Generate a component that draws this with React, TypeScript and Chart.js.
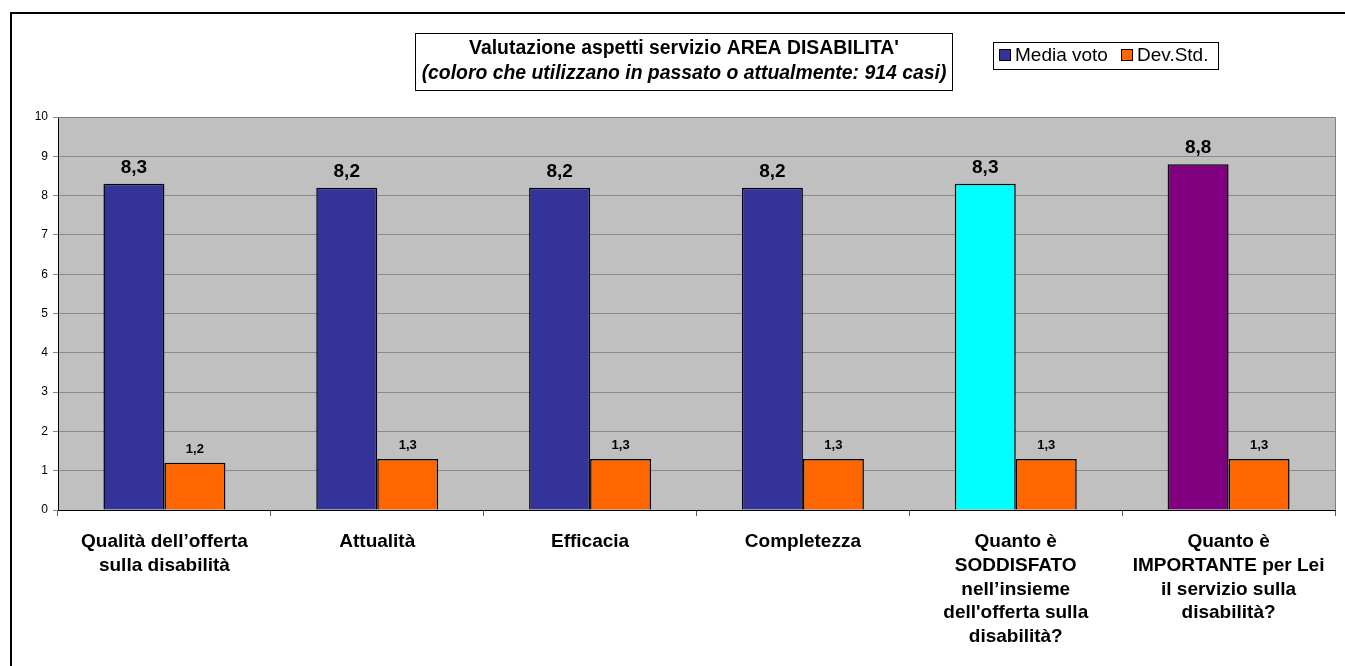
import React, { useEffect, useRef } from "react";
import { Chart, registerables } from "chart.js";

Chart.register(...registerables);

const categories: string[][] = [
  ["Qualità dell’offerta", "sulla disabilità"],
  ["Attualità"],
  ["Efficacia"],
  ["Completezza"],
  ["Quanto è", "SODDISFATO", "nell’insieme", "dell'offerta sulla", "disabilità?"],
  ["Quanto è", "IMPORTANTE per Lei", "il servizio sulla", "disabilità?"],
];
const mediaVoto: number[] = [8.3, 8.2, 8.2, 8.2, 8.3, 8.8];
const devStd: number[] = [1.2, 1.3, 1.3, 1.3, 1.3, 1.3];
const mediaColors: string[] = ["#333399", "#333399", "#333399", "#333399", "#00FFFF", "#800080"];
const seriesNames: string[] = ["Media voto", "Dev.Std."];
const titleLines: string[] = [
  "Valutazione aspetti servizio AREA DISABILITA'",
  "(coloro che utilizzano in passato o attualmente: 914 casi)",
];

const FONT = "Arial, 'Liberation Sans', sans-serif";

const decorPlugin = {
  id: "decor",
  beforeDraw(chart: any) {
    const { ctx, chartArea } = chart;
    ctx.save();
    ctx.fillStyle = "#ffffff";
    ctx.fillRect(0, 0, chart.width, chart.height);
    ctx.fillStyle = "#C0C0C0";
    ctx.fillRect(chartArea.left, chartArea.top, chartArea.right - chartArea.left, chartArea.bottom - chartArea.top);
    ctx.restore();
  },
  afterDraw(chart: any) {
    const { ctx, chartArea } = chart;
    ctx.save();
    // plot area border (top/right)
    ctx.strokeStyle = "#808080";
    ctx.lineWidth = 1;
    ctx.beginPath();
    ctx.moveTo(chartArea.left, chartArea.top + 0.5);
    ctx.lineTo(chartArea.right + 0.5, chartArea.top + 0.5);
    ctx.lineTo(chartArea.right + 0.5, chartArea.bottom);
    ctx.stroke();

    // outer border
    ctx.strokeStyle = "#000000";
    ctx.lineWidth = 2;
    ctx.beginPath();
    ctx.moveTo(11, chart.height + 2);
    ctx.lineTo(11, 13);
    ctx.lineTo(chart.width + 2, 13);
    ctx.stroke();

    // title box
    ctx.lineWidth = 1;
    ctx.strokeStyle = "#000000";
    ctx.strokeRect(415.5, 33.5, 537, 57);
    ctx.fillStyle = "#000000";
    ctx.textAlign = "center";
    ctx.textBaseline = "middle";
    ctx.font = `bold 19.4px ${FONT}`;
    ctx.fillText(titleLines[0], 684, 49);
    ctx.font = `italic bold 19.4px ${FONT}`;
    ctx.fillText(titleLines[1], 684, 74);

    // legend box
    ctx.strokeRect(993.5, 42.5, 225, 27);
    ctx.font = `19px ${FONT}`;
    ctx.textAlign = "left";
    const items = [
      { color: "#333399", x: 999, label: seriesNames[0] },
      { color: "#FF6600", x: 1121, label: seriesNames[1] },
    ];
    items.forEach((it) => {
      ctx.fillStyle = it.color;
      ctx.fillRect(it.x, 49, 12, 12);
      ctx.strokeStyle = "#000";
      ctx.strokeRect(it.x + 0.5, 49.5, 11, 11);
      ctx.fillStyle = "#000";
      ctx.fillText(it.label, it.x + 16, 56);
    });

    // data labels
    ctx.textAlign = "center";
    ctx.textBaseline = "alphabetic";
    chart.data.datasets.forEach((ds: any, di: number) => {
      const meta = chart.getDatasetMeta(di);
      meta.data.forEach((bar: any, i: number) => {
        const v = ds.data[i];
        const txt = v.toFixed(1).replace(".", ",");
        if (di === 0) {
          ctx.font = `bold 19px ${FONT}`;
          ctx.fillText(txt, bar.x, bar.y - 11);
        } else {
          ctx.font = `bold 13px ${FONT}`;
          ctx.fillText(txt, bar.x, bar.y - 10);
        }
      });
    });
    ctx.restore();
  },
};

export default function App() {
  const ref = useRef<HTMLCanvasElement>(null);
  useEffect(() => {
    if (!ref.current) return;
    const chart = new Chart(ref.current, {
      type: "bar",
      data: {
        labels: categories,
        datasets: [
          {
            label: seriesNames[0],
            data: mediaVoto,
            backgroundColor: mediaColors,
            borderColor: "#000000",
            borderWidth: 1.5,
            barPercentage: 1,
            categoryPercentage: 0.573,
          },
          {
            label: seriesNames[1],
            data: devStd,
            backgroundColor: "#FF6600",
            borderColor: "#000000",
            borderWidth: 1.5,
            barPercentage: 1,
            categoryPercentage: 0.573,
          },
        ],
      },
      options: {
        responsive: false,
        animation: false,
        layout: { padding: { left: 0, top: 117, right: 10, bottom: 0 } },
        plugins: {
          legend: { display: false },
          title: { display: false },
          tooltip: { enabled: false },
        },
        scales: {
          x: {
            offset: true,
            grid: {
              offset: true,
              drawOnChartArea: false,
              drawTicks: true,
              tickLength: 6,
              color: "#555555",
            },
            border: { color: "#000000", width: 1 },
            ticks: {
              color: "#000000",
              font: { family: FONT, size: 19, weight: "bold", lineHeight: 1.25 },
              maxRotation: 0,
              minRotation: 0,
              autoSkip: false,
              padding: 14,
            },
            afterFit(scale: any) {
              scale.height = 156;
            },
          },
          y: {
            min: 0,
            max: 10,
            ticks: {
              stepSize: 1,
              color: "#000000",
              font: { family: FONT, size: 12 },
              padding: 5,
            },
            grid: {
              color: "#8a8a8a",
              tickLength: 5,
              drawTicks: true,
            },
            border: { color: "#000000", width: 1 },
            afterFit(scale: any) {
              scale.width = 58;
            },
          },
        },
      },
      plugins: [decorPlugin],
    });
    return () => chart.destroy();
  }, []);
  return (
    <div style={{ position: "absolute", left: 0, top: 0, width: 1345, height: 666 }}>
      <canvas ref={ref} width={1345} height={666} style={{ display: "block" }} />
    </div>
  );
}
